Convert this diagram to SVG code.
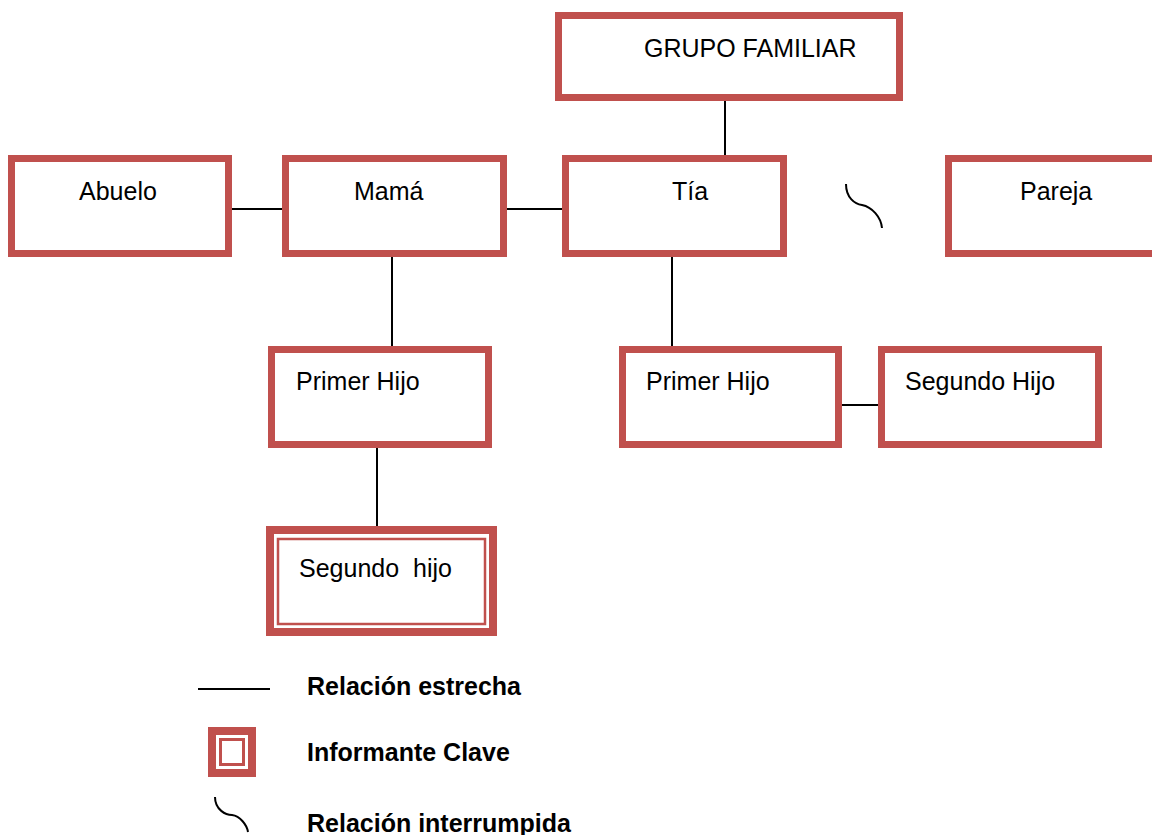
<svg xmlns="http://www.w3.org/2000/svg" width="1152" height="835" viewBox="0 0 1152 835">
<style>
.box{fill:#fff;stroke:#C0504D;stroke-width:7}
.lbl{font-family:"Liberation Sans",Arial,sans-serif;font-size:25px;fill:#000;white-space:pre}
.leg{font-family:"Liberation Sans",Arial,sans-serif;font-size:25px;font-weight:bold;fill:#000}
.con{stroke:#000;stroke-width:2;fill:none}
</style>
<rect width="1152" height="835" fill="#fff"/>
<g id="connectors">
<line class="con" x1="725" y1="100" x2="725" y2="155"/>
<line class="con" x1="232" y1="209" x2="282" y2="209"/>
<line class="con" x1="507" y1="209" x2="562" y2="209"/>
<line class="con" x1="392" y1="257" x2="392" y2="346"/>
<line class="con" x1="672" y1="257" x2="672" y2="346"/>
<line class="con" x1="842" y1="405" x2="878" y2="405"/>
<line class="con" x1="377" y1="448" x2="377" y2="526"/>
<path class="con" d="M846,184 C846,198 855,204 862,205 C872,207 881,217 882,228"/>
</g>
<g id="grupo"><rect class="box" x="558.5" y="15.5" width="341" height="82"/><text class="lbl" x="644" y="57">GRUPO FAMILIAR</text></g>
<g id="abuelo"><rect class="box" x="11.5" y="158.5" width="217" height="95"/><text class="lbl" x="79" y="200">Abuelo</text></g>
<g id="mama"><rect class="box" x="285.5" y="158.5" width="218" height="95"/><text class="lbl" x="354" y="200">Mamá</text></g>
<g id="tia"><rect class="box" x="565.5" y="158.5" width="218" height="95"/><text class="lbl" x="672" y="200">Tía</text></g>
<g id="pareja"><rect class="box" x="948.5" y="158.5" width="220" height="95"/><text class="lbl" x="1020" y="200">Pareja</text></g>
<g id="primer-hijo-1"><rect class="box" x="271.5" y="349.5" width="217" height="95"/><text class="lbl" x="296" y="390">Primer Hijo</text></g>
<g id="primer-hijo-2"><rect class="box" x="622.5" y="349.5" width="216" height="95"/><text class="lbl" x="646" y="390">Primer Hijo</text></g>
<g id="segundo-hijo-2"><rect class="box" x="881.5" y="349.5" width="217" height="95"/><text class="lbl" x="905" y="390">Segundo Hijo</text></g>
<g id="segundo-hijo-1">
<rect x="270" y="530" width="223" height="102" fill="#fff" stroke="#C0504D" stroke-width="8"/>
<rect x="278" y="539" width="207" height="85" fill="none" stroke="#C0504D" stroke-width="2.5"/>
<text class="lbl" x="299" y="577">Segundo  hijo</text>
</g>
<g id="legend">
<line class="con" x1="198" y1="689" x2="270" y2="689"/>
<text class="leg" x="307" y="695">Relación estrecha</text>
<rect x="208" y="727" width="48" height="50" fill="#C0504D"/>
<rect x="216" y="735" width="32" height="34" fill="#fff"/>
<rect x="220.5" y="739.5" width="23" height="25" fill="#fff" stroke="#C0504D" stroke-width="3"/>
<text class="leg" x="307" y="761">Informante Clave</text>
<path class="con" d="M215,797 C215,810 226,815 232,815 C240,816 247,825 248,832"/>
<text class="leg" x="307" y="832">Relación interrumpida</text>
</g>
</svg>
